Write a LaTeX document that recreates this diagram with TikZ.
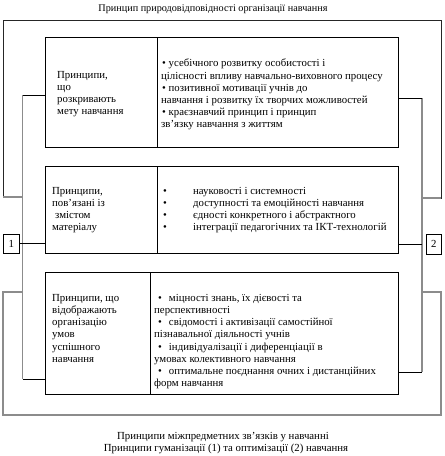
\documentclass[tikz,border=0pt]{standalone}
\usepackage{fontspec}
\setmainfont{Liberation Serif}
\begin{document}
\begin{tikzpicture}[x=1pt,y=-1pt,
  font=\fontsize{10.8}{12.2}\selectfont,
  cell/.style={draw=black, line width=1.2pt, inner sep=0pt, anchor=north west},
  numbox/.style={draw=black, line width=0.6pt, inner sep=0pt, anchor=north west},
  txt/.style={anchor=north west, align=left, inner sep=0pt},
  frame/.style={draw=black!85, line width=0.8pt},
  grayline/.style={draw=black!45, line width=1.2pt},
  conn/.style={draw=black, line width=0.8pt}]
\useasboundingbox (0,0) rectangle (445,456);
% title
\node[inner sep=0pt, anchor=base, font=\fontsize{10.2}{12}\selectfont] (title) at (213,11) {Принцип природовідповідності організації навчання};
% cells
\node[cell, minimum width=112pt, minimum height=110pt] (r1l) at (45,37) {};
\node[cell, minimum width=241pt, minimum height=110pt] (r1r) at (157,37) {};
\node[cell, minimum width=112pt, minimum height=87pt] (r2l) at (45,166) {};
\node[cell, minimum width=241pt, minimum height=87pt] (r2r) at (157,166) {};
\node[cell, minimum width=105pt, minimum height=122pt] (r3l) at (45,272) {};
\node[cell, minimum width=248pt, minimum height=122pt] (r3r) at (150,272) {};
% number boxes
\node[numbox, minimum width=16pt, minimum height=19pt] (n1) at (3,234) {1};
\node[numbox, minimum width=15pt, minimum height=20pt] (n2) at (426,234) {2};
% texts
\node[txt] (t1l) at (57,71) {Принципи,\\що\\розкривають\\мету навчання};
\node[txt] (t1r) at (161,59) {\hspace*{1pt}• усебічного розвитку особистості і\\цілісності впливу навчально-виховного процесу\\\hspace*{1pt}• позитивної мотивації учнів до\\навчання і розвитку їх творчих можливостей\\\hspace*{1pt}• краєзнавчий принцип і принцип\\зв’язку навчання з життям};
\node[txt] (t2l) at (52,187) {Принципи,\\пов’язані із\\\hspace*{3pt}змістом\\матеріалу};
\node[txt] (t2r) at (163,187) {\makebox[30pt][l]{•}науковості і системності\\\makebox[30pt][l]{•}доступності та емоційності навчання\\\makebox[30pt][l]{•}єдності конкретного і абстрактного\\\makebox[30pt][l]{•}інтеграції педагогічних та ІКТ-технологій};
\node[txt] (t3l) at (52,294) {Принципи, що\\відображають\\організацію\\умов\\успішного\\навчання};
\node[txt] (t3r) at (154,294) {\hspace*{4pt}•\hspace{7pt}міцності знань, їх дієвості та\\перспективності\\\hspace*{4pt}•\hspace{7pt}свідомості і активізації самостійної\\пізнавальної діяльності учнів\\\hspace*{4pt}•\hspace{7pt}індивідуалізації і диференціації в\\умовах колективного навчання\\\hspace*{4pt}•\hspace{7pt}оптимальне поєднання очних і дистанційних\\форм навчання};
% bottom texts
\node[inner sep=0pt, anchor=base] (b1) at (223,439) {Принципи міжпредметних зв’язків у навчанні};
\node[inner sep=0pt, anchor=base] (b2) at (226,451) {Принципи гуманізації (1) та оптимізації (2) навчання};
% coordinates
\coordinate (L1) at (22.5,95);
\coordinate (L3) at (22.5,379);
\coordinate (R1) at (422,98);
\coordinate (R3) at (422,372);
% top outer frame
\path[frame] (22.5,197) -- (3,197) -- (3,20) -- (441,20) -- (441,198) -- (422,198);
\path[grayline] (22.5,197) -- (3,197);
\path[grayline] (441,198) -- (422,198);
% bottom frame
\path[grayline] (22.5,292) -- (3,292) -- (3,415) -- (441,415) -- (441,292) -- (422,292);
% gray verticals
\path[grayline] (L1) -- (L3);
\path[grayline] (R1) -- (R3);
% connectors
\path[conn] (L1) -- (r1l.west |- L1);
\path[conn] (n1.east) -- (r2l.west |- n1.east);
\path[conn] (L3) -- (r3l.west |- L3);
\path[conn] (r1r.east |- R1) -- (R1);
\path[conn] (r2r.east |- n2.west) -- (n2.west -| R1);
\path[conn] (r3r.east |- R3) -- (R3);
\end{tikzpicture}
\end{document}
